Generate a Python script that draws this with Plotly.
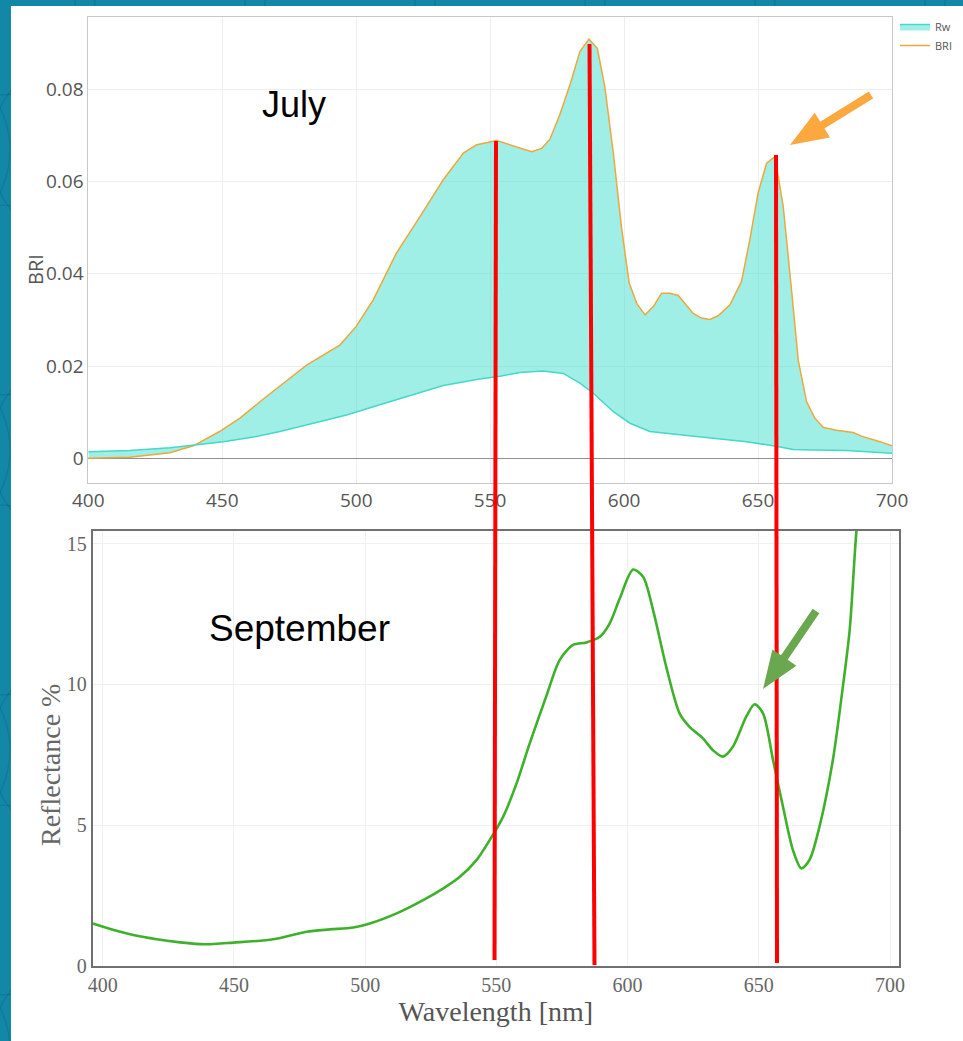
import math
import plotly.graph_objects as go

W, H = 963, 1041

# ---- July: BRI and water-leaving reflectance Rw ----
july_bri_nm = [400, 415.5, 430.5, 439.2, 449, 456.6, 466.5, 481.5, 494, 500, 506.3, 515,
               523.8, 532.5, 540, 545, 552.4, 558.6, 565.5, 569.2, 572.3, 576, 579.8,
               583.5, 586.9, 590, 592.8, 596, 599, 601.9, 604.7, 607.8, 610.9, 614,
               617.1, 620.2, 625.8, 628.9, 632, 635.1, 639.5, 643.8, 646.9, 650, 653.2,
               656.3, 659.4, 662.5, 665, 668.1, 671.2, 674.3, 679.3, 685.5, 688.6,
               695.5, 700]
july_bri = [0.0, 0.0002, 0.0012, 0.0027, 0.0058, 0.0087, 0.0134, 0.0202, 0.0246, 0.0286,
            0.0343, 0.0445, 0.0524, 0.0604, 0.0662, 0.068, 0.0689, 0.0677, 0.0665, 0.0672,
            0.0692, 0.0745, 0.081, 0.0882, 0.0909, 0.0889, 0.0806, 0.0661, 0.0502, 0.038,
            0.0336, 0.0311, 0.0329, 0.0358, 0.0358, 0.0353, 0.0314, 0.0304, 0.0301, 0.0309,
            0.0333, 0.0383, 0.0473, 0.0575, 0.064, 0.0654, 0.0546, 0.0365, 0.0213, 0.0123,
            0.0087, 0.0067, 0.0061, 0.0056, 0.0048, 0.0036, 0.0027]

july_rw_nm = [400, 415.5, 430.5, 439.2, 450.4, 461.6, 471.5, 484, 496.4, 508.8, 521.3,
              532.5, 546.1, 553.7, 561.1, 569.8, 577.3, 583.5, 588.5, 596, 602.2, 609.6,
              620.8, 633.3, 645.7, 655.7, 663.1, 670.6, 683, 700]
july_rw = [0.0014, 0.0017, 0.0023, 0.0029, 0.0036, 0.0046, 0.0058, 0.0076, 0.0094, 0.0116,
           0.0139, 0.0158, 0.0172, 0.0178, 0.0186, 0.0189, 0.0184, 0.0163, 0.0141, 0.0101,
           0.0076, 0.0058, 0.0051, 0.0043, 0.0036, 0.0027, 0.0019, 0.0018, 0.0017, 0.0011]

# ---- September: measured reflectance (%) ----
sep_nm = [396.2, 405.3, 411.7, 420.6, 429.5, 439, 449.8, 465, 477.7, 486.6, 495.5, 501.8,
          512, 522.1, 529.8, 536.1, 542.4, 547.5, 552.6, 557.7, 562.7, 569.1,
          574.1, 579.2, 584.3, 589.4, 593.2, 597, 602.1, 605.9, 609.7, 614.7, 619.8,
          623.6, 628.7, 632.5, 636.3, 640.1, 645.2, 648.4, 651.6, 655.4, 659.2, 663,
          666.2, 669.3, 673.1, 678.2, 682, 684.6, 687.1, 688.5]
sep_refl = [1.5, 1.24, 1.09, 0.94, 0.83, 0.76, 0.82, 0.94, 1.21, 1.29, 1.36, 1.5, 1.86,
            2.33, 2.75, 3.16, 3.75, 4.47, 5.3, 6.48, 7.9, 9.6, 10.86, 11.4, 11.49,
            11.69, 12.17, 13.05, 14.08, 13.82, 12.64, 10.63, 8.97, 8.49, 8.08, 7.66, 7.43,
            7.78, 8.85, 9.29, 8.97, 7.31, 5.65, 4.11, 3.46, 3.76, 4.94, 7.31, 9.91, 11.93,
            15.36, 16.6]

x_ticks = [400, 450, 500, 550, 600, 650, 700]
bri_ticks = [0, 0.02, 0.04, 0.06, 0.08]
bri_tick_text = ["0", "0.02", "0.04", "0.06", "0.08"]
refl_ticks = [0, 5, 10, 15]

TEAL_BG = "#1288A6"
FILL = "rgba(64,224,208,0.5)"
RW_LINE = "#45D8C8"
BRI_LINE = "#EDA73A"
GREEN = "#3DB12A"


def px(x, y):
    """pixel position -> paper coordinates"""
    return x / W, 1 - y / H


def arrow_path(tail, tip, shaft_w, head_len, head_w):
    dx, dy = tip[0] - tail[0], tip[1] - tail[1]
    L = math.hypot(dx, dy)
    ux, uy = dx / L, dy / L
    nx, ny = -uy, ux
    bx, by = tip[0] - ux * head_len, tip[1] - uy * head_len
    pts = [
        (tail[0] + nx * shaft_w / 2, tail[1] + ny * shaft_w / 2),
        (bx + nx * shaft_w / 2, by + ny * shaft_w / 2),
        (bx + nx * head_w / 2, by + ny * head_w / 2),
        tip,
        (bx - nx * head_w / 2, by - ny * head_w / 2),
        (bx - nx * shaft_w / 2, by - ny * shaft_w / 2),
        (tail[0] - nx * shaft_w / 2, tail[1] - ny * shaft_w / 2),
    ]
    segs = []
    for i, (x, y) in enumerate(pts):
        X, Y = px(x, y)
        segs.append(("M" if i == 0 else "L") + f"{X:.5f},{Y:.5f}")
    return " ".join(segs) + " Z"


fig = go.Figure()

fig.add_trace(go.Scatter(
    x=july_bri_nm, y=july_bri, name="BRI", mode="lines",
    line=dict(color=BRI_LINE, width=1.5), legendrank=2,
    xaxis="x", yaxis="y"))
fig.add_trace(go.Scatter(
    x=july_rw_nm, y=july_rw, name="Rw", mode="lines", fill="tonexty",
    fillcolor=FILL, line=dict(color=RW_LINE, width=1.5), legendrank=1,
    xaxis="x", yaxis="y"))
fig.add_trace(go.Scatter(
    x=sep_nm, y=sep_refl, mode="lines",
    line=dict(color=GREEN, width=2.6, shape="spline", smoothing=0.8),
    showlegend=False, xaxis="x2", yaxis="y2"))

top_x0, top_y0 = px(88.3, 482.7)
top_x1, top_y1 = px(892, 17)
bot_x0, bot_y0 = px(92.7, 965.7)
bot_x1, bot_y1 = px(899, 531)

open_sans = dict(family="Open Sans", size=19, color="#555")
serif = dict(family="Liberation Serif", size=20, color="#666")

shapes = []

# faint ring texture of the slide background (only the border strip stays visible)
for row in range(-1, 8):
    for col in range(-1, 7):
        cx = col * 170 + (85 if row % 2 else 0)
        cy = row * 150
        (x0, y0), (x1, y1) = px(cx - 95, cy + 95), px(cx + 95, cy - 95)
        shapes.append(dict(type="circle", xref="paper", yref="paper", layer="below",
                           x0=x0, y0=y0, x1=x1, y1=y1,
                           line=dict(color="rgba(10,70,100,0.22)", width=1.2)))

# white slide panel over the teal background
shapes.append(dict(type="rect", xref="paper", yref="paper", layer="below",
                   x0=px(11, 0)[0], x1=1, y0=0, y1=px(0, 6)[1],
                   fillcolor="white", line=dict(width=0)))

# red reference lines linking the two spectra
for (xa, ya), (xb, yb) in [((496, 141), (494.5, 960)),
                           ((589.5, 44), (594.5, 965)),
                           ((776, 155), (777, 963))]:
    (X0, Y0), (X1, Y1) = px(xa, ya), px(xb, yb)
    shapes.append(dict(type="line", xref="paper", yref="paper",
                       x0=X0, y0=Y0, x1=X1, y1=Y1,
                       line=dict(color="#FF0000", width=4)))

shapes.append(dict(type="path", xref="paper", yref="paper",
                   path=arrow_path((871, 95), (790, 145), 8, 38, 29),
                   fillcolor="#FBA83E", line=dict(width=0)))
shapes.append(dict(type="path", xref="paper", yref="paper",
                   path=arrow_path((816, 611), (763, 689), 8, 38, 29),
                   fillcolor="#6AA84F", line=dict(width=0)))


def label(text, cx, cy, font, angle=0):
    X, Y = px(cx, cy)
    return dict(text=text, x=X, y=Y, xref="paper", yref="paper", xanchor="center",
                yanchor="middle", showarrow=False, textangle=angle, font=font)


annotations = [
    label("July", 294, 104, dict(family="Liberation Sans", size=36, color="black")),
    label("September", 299, 628, dict(family="Liberation Sans", size=37, color="black")),
    label("BRI", 35, 270, dict(family="Open Sans", size=20, color="#555"), -90),
    label("Reflectance %", 50, 765, dict(family="Liberation Serif", size=28, color="#666"), -90),
]

fig.update_layout(
    width=W, height=H, margin=dict(l=0, r=0, t=0, b=0),
    template="none", paper_bgcolor=TEAL_BG, plot_bgcolor="white",
    showlegend=True,
    legend=dict(x=px(895, 0)[0], y=px(0, 12)[1], xanchor="left", yanchor="top",
                traceorder="normal",
                font=dict(family="Open Sans", size=11, color="#555"),
                bgcolor="rgba(0,0,0,0)", itemwidth=30, tracegroupgap=0),
    xaxis=dict(domain=[top_x0, top_x1], range=[400, 700], anchor="y",
               tickvals=x_ticks, tickfont=open_sans, ticks="",
               showgrid=True, gridcolor="#eeeeee", showline=True, mirror=True,
               linecolor="#c8c8c8", linewidth=1, zeroline=False, automargin=False),
    yaxis=dict(domain=[top_y0, top_y1], range=[-0.0053, 0.0957], anchor="x",
               tickvals=bri_ticks, ticktext=bri_tick_text, tickfont=open_sans, ticks="",
               showgrid=True, gridcolor="#eeeeee", showline=True, mirror=True,
               linecolor="#c8c8c8", linewidth=1, zeroline=True, zerolinecolor="#8f8f8f",
               zerolinewidth=1, automargin=False),
    xaxis2=dict(domain=[bot_x0, bot_x1], range=[396.2, 703.4], anchor="y2",
                tickvals=x_ticks, tickfont=serif, ticks="",
                title=dict(text="Wavelength [nm]", standoff=6,
                           font=dict(family="Liberation Serif", size=28, color="#555")),
                showgrid=True, gridcolor="#f0f0f0", showline=True, mirror=True,
                linecolor="#707070", linewidth=2, zeroline=False, automargin=False),
    yaxis2=dict(domain=[bot_y0, bot_y1], range=[0, 15.45], anchor="x2",
                tickvals=refl_ticks, tickfont=serif, ticks="",
                showgrid=True, gridcolor="#f0f0f0", showline=True, mirror=True,
                linecolor="#707070", linewidth=2, zeroline=False, automargin=False),
    shapes=shapes,
    annotations=annotations,
)

fig.write_html("out.html")
